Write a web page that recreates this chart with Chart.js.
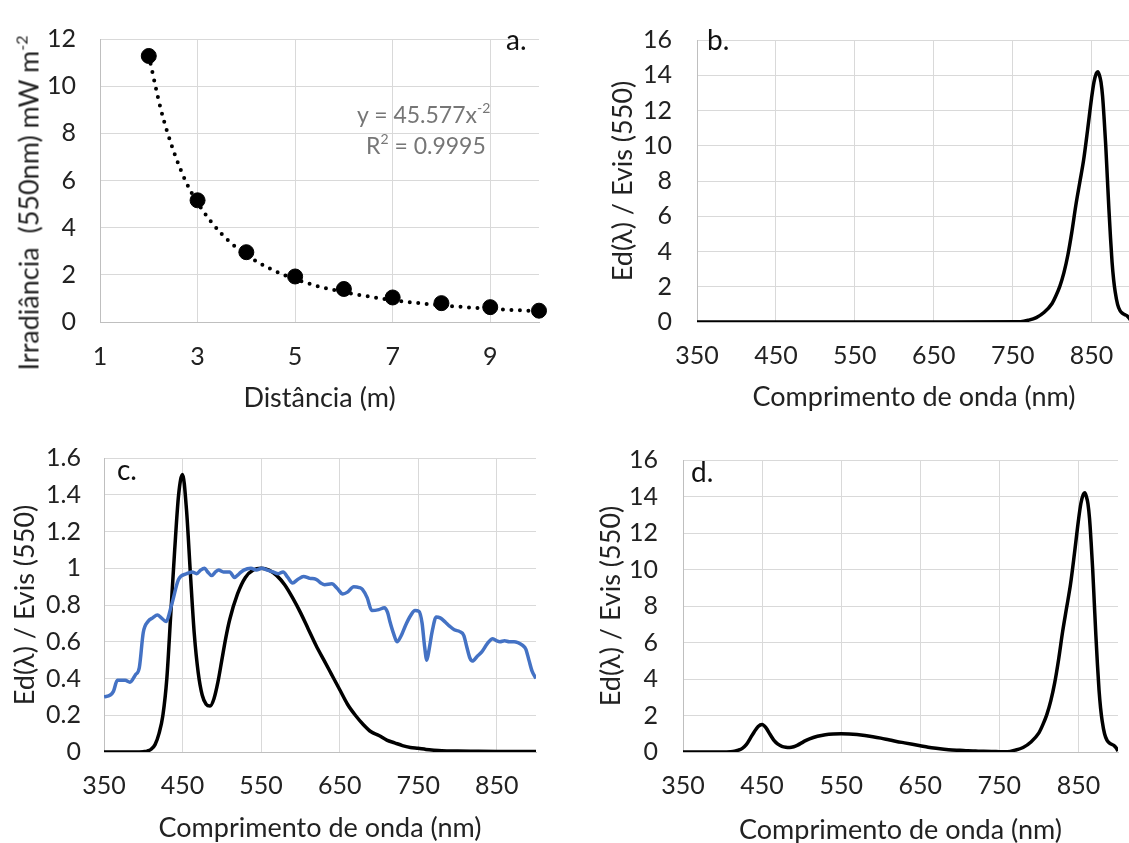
<!DOCTYPE html>
<html>
<head>
<meta charset="utf-8">
<script src="https://cdn.jsdelivr.net/npm/chart.js@4.4.0/dist/chart.umd.min.js"></script>
<style>
  html, body { margin: 0; padding: 0; background: #fff; overflow: hidden; }
  body { width: 1129px; height: 843px; position: relative; font-family: Lato, sans-serif; }
  .box { position: absolute; }
  .tag { position: absolute; font-size: 28px; color: #111; line-height: 1; white-space: nowrap; }
  .eq { position: absolute; font-size: 23px; color: #767676; line-height: 1; white-space: nowrap; }
  .eq sup { font-size: 14px; vertical-align: 10px; line-height: 0; }
  .ytitle { position: absolute; font-size: 27px; color: #222; line-height: 1; white-space: pre;
            transform: translate(-50%, -50%) rotate(-90deg); }
  .ytitle sup { font-size: 16px; vertical-align: 11px; line-height: 0; }
</style>
</head>
<body>
<div class="box" style="left:0;top:0"><canvas id="chartA" width="565" height="420"></canvas></div>
<div class="box" style="left:560px;top:0"><canvas id="chartB" width="600" height="420"></canvas></div>
<div class="box" style="left:0;top:420px"><canvas id="chartC" width="565" height="430"></canvas></div>
<div class="box" style="left:560px;top:420px"><canvas id="chartD" width="569" height="430"></canvas></div>

<div class="ytitle" style="left:28px;top:203px">Irradiância  (550nm) mW m<sup>-2</sup></div>
<div class="tag" style="left:506px;top:25px">a.</div>
<div class="tag" style="left:707px;top:25px">b.</div>
<div class="tag" style="left:117px;top:455px">c.</div>
<div class="tag" style="left:691px;top:457px">d.</div>
<div class="eq" style="left:357px;top:103px">y = 45.577x<sup>-2</sup></div>
<div class="eq" style="left:366px;top:134px">R<sup>2</sup> = 0.9995</div>

<script>
// panel a: irradiance vs distance
const aDist = [2, 3, 4, 5, 6, 7, 8, 9, 10];
const aIrr = [11.28, 5.16, 2.96, 1.93, 1.4, 1.04, 0.8, 0.63, 0.48];
const aTrendX = [2, 2.25, 2.5, 2.75, 3, 3.5, 4, 4.5, 5, 5.5, 6, 7, 8, 9, 10];
const aTrendY = [11.3, 9.0, 7.3, 6.0, 5.06, 3.72, 2.85, 2.25, 1.82, 1.5, 1.27, 0.93, 0.71, 0.56, 0.46];
const aXTicks = [1, 3, 5, 7, 9];

// spectra
const wlTicks = [350, 450, 550, 650, 750, 850];

const wlVis = [350, 360, 370, 380, 390, 400, 405, 410, 415, 420, 425, 430, 435, 440, 445, 450, 455, 460, 465, 470,
  475, 480, 485, 490, 495, 500, 505, 510, 520, 530, 540, 550, 560, 570, 580, 590, 600, 610, 620, 630,
  640, 650, 660, 670, 680, 690, 700, 710, 720, 730, 740, 750, 760];
const edVis = [0, 0, 0, 0, 0, 0.002, 0.005, 0.015, 0.04, 0.1, 0.2, 0.4, 0.75, 1.1, 1.4, 1.51, 1.32, 0.97, 0.64, 0.43,
  0.31, 0.26, 0.25, 0.29, 0.38, 0.5, 0.62, 0.72, 0.86, 0.95, 0.99, 1.0, 0.99, 0.96, 0.91, 0.84, 0.76, 0.67, 0.58, 0.5,
  0.42, 0.34, 0.26, 0.2, 0.15, 0.11, 0.09, 0.065, 0.05, 0.035, 0.025, 0.02, 0.014];
const wlVisTail = [770, 780, 800, 820, 850, 880, 900];
const edVisTail = [0.01, 0.007, 0.005, 0.004, 0.003, 0.003, 0.003];

const wlNir = [770, 780, 790, 800, 805, 810, 815, 820, 825, 830, 835, 840, 845, 850, 853, 856, 858, 860, 862, 864,
  866, 868, 870, 872, 874, 876, 878, 880, 883, 886, 889, 892, 895, 898, 900];
const edNir = [0.1, 0.25, 0.55, 1.05, 1.5, 2.05, 2.8, 3.8, 5.1, 6.6, 7.9, 9.2, 10.9, 12.7, 13.6, 14.1, 14.2, 14.0, 13.6, 12.8,
  11.5, 10.0, 8.2, 6.4, 4.8, 3.4, 2.4, 1.7, 1.0, 0.65, 0.5, 0.42, 0.35, 0.2, 0.05];
const wlFlat = [350, 450, 550, 650, 760];
const edFlat = [0, 0, 0, 0, 0.02];

const wlSun = [350, 358, 362, 367, 377, 383, 390, 395, 400, 406, 412, 418, 423, 429, 436, 445, 455, 462, 468, 473,
  478, 482, 487, 492, 496, 502, 506, 510, 516, 522, 528, 537, 544, 551, 558, 565, 572, 578, 584, 590,
  597, 604, 612, 620, 626, 631, 640, 647, 654, 660, 668, 675, 679, 685, 691, 700, 707, 711, 714, 719,
  723, 728, 734, 740, 746, 751, 755, 758, 761, 764, 768, 773, 778, 785, 790, 796, 803, 808, 812, 816,
  819, 825, 831, 838, 845, 850, 854, 860, 866, 872, 877, 883, 887, 891, 895, 900];
const edSun = [0.30, 0.31, 0.33, 0.39, 0.39, 0.38, 0.42, 0.46, 0.65, 0.71, 0.73, 0.745, 0.73, 0.71, 0.80, 0.94, 0.97, 0.98, 0.97, 0.99,
  1.0, 0.98, 0.96, 0.98, 0.99, 0.98, 0.98, 0.98, 0.95, 0.97, 0.99, 1.0, 0.99, 1.0, 0.99, 0.98, 0.97, 0.98, 0.95, 0.92,
  0.94, 0.955, 0.945, 0.94, 0.92, 0.91, 0.915, 0.89, 0.86, 0.87, 0.90, 0.895, 0.885, 0.84, 0.77, 0.775, 0.785, 0.76, 0.71, 0.64,
  0.60, 0.63, 0.69, 0.74, 0.77, 0.765, 0.70, 0.58, 0.50, 0.56, 0.66, 0.735, 0.73, 0.705, 0.685, 0.665, 0.655, 0.635, 0.57, 0.51,
  0.495, 0.52, 0.545, 0.59, 0.617, 0.605, 0.60, 0.605, 0.60, 0.60, 0.595, 0.58, 0.56, 0.50, 0.44, 0.40];

Chart.defaults.font.family = 'Lato';
Chart.defaults.font.size = 25;
Chart.defaults.color = '#222';

function toPoints(xs, ys) {
  return xs.map((x, i) => ({x: x, y: ys[i]}));
}
function fixWidth(w) { return function(scale) { scale.width = w; }; }
function fixHeight(h) { return function(scale) { scale.height = h; }; }
function setTicks(list) { return function(scale) { scale.ticks = list.map(v => ({value: v})); }; }

const gridColor = '#d9d9d9';
const axisColor = '#bfbfbf';
const titleFont = {size: 27};

new Chart(document.getElementById('chartA'), {
  type: 'scatter',
  data: {
    datasets: [{
      data: toPoints(aDist, aIrr),
      backgroundColor: '#000',
      borderColor: '#000',
      pointRadius: 7.5,
      clip: false
    }, {
      data: toPoints(aTrendX, aTrendY),
      showLine: true,
      borderColor: '#000',
      borderWidth: 4,
      borderDash: [0, 8.5],
      borderCapStyle: 'round',
      pointRadius: 0,
      cubicInterpolationMode: 'monotone'
    }]
  },
  options: {
    responsive: false,
    animation: false,
    layout: {padding: {left: 0, top: 22, right: 26, bottom: 0}},
    plugins: {legend: {display: false}, tooltip: {enabled: false}},
    scales: {
      x: {
        type: 'linear', min: 1, max: 10,
        afterBuildTicks: setTicks(aXTicks),
        afterFit: fixHeight(98),
        grid: {color: gridColor, drawTicks: false},
        border: {color: axisColor},
        ticks: {padding: 20},
        title: {display: true, text: 'Distância (m)', font: titleFont, padding: {top: 0, bottom: 6}}
      },
      y: {
        min: 0, max: 12,
        afterFit: fixWidth(100),
        grid: {color: gridColor, drawTicks: false},
        border: {color: axisColor},
        ticks: {stepSize: 2, padding: 24}
        // the y title is the .ytitle div (it is longer than the axis)
      }
    }
  }
});

function spectrum(id, datasets, yMax, yStep, geo) {
  return new Chart(document.getElementById(id), {
    type: 'scatter',
    data: {datasets: datasets},
    options: {
      responsive: false,
      animation: false,
      layout: {padding: {left: 0, top: geo.top, right: geo.right, bottom: 0}},
      plugins: {legend: {display: false}, tooltip: {enabled: false}},
      scales: {
        x: {
          type: 'linear', min: 350, max: 900,
          afterBuildTicks: setTicks(wlTicks),
          afterFit: fixHeight(geo.xh),
          grid: {color: gridColor, drawTicks: false},
          border: {color: axisColor},
          ticks: {padding: 19},
          title: {display: true, text: 'Comprimento de onda (nm)', font: titleFont, padding: {top: 0, bottom: geo.xtp}}
        },
        y: {
          min: 0, max: yMax,
          afterFit: fixWidth(geo.yw),
          grid: {color: gridColor, drawTicks: false},
          border: {color: axisColor},
          ticks: {
            stepSize: yStep, padding: geo.ypad,
            callback: v => String(Math.round(v * 10) / 10)
          },
          title: {display: true, text: 'Ed(λ) / Evis (550)', font: titleFont, padding: {top: geo.ytp, bottom: 0}}
        }
      }
    }
  });
}

function blackLine(points) {
  return {
    data: points,
    showLine: true,
    borderColor: '#000',
    borderWidth: 3.5,
    pointRadius: 0,
    cubicInterpolationMode: 'monotone'
  };
}

spectrum('chartB', [blackLine(toPoints(wlFlat.concat(wlNir), edFlat.concat(edNir)))], 16, 2,
  {top: 19, right: 29, xh: 98, xtp: 7, yw: 137, ypad: 25, ytp: 47});

spectrum('chartC', [{
  data: toPoints(wlSun, edSun),
  showLine: true,
  borderColor: '#4472c4',
  borderWidth: 3.5,
  pointRadius: 0,
  cubicInterpolationMode: 'monotone'
}, blackLine(toPoints(wlVis.concat(wlVisTail), edVis.concat(edVisTail)))], 1.6, 0.2,
  {top: 32, right: 29, xh: 98, xtp: 6, yw: 104, ypad: 23, ytp: 9});

spectrum('chartD', [blackLine(toPoints(wlVis.concat(wlNir), edVis.concat(edNir)))], 16, 2,
  {top: 32, right: 11, xh: 98, xtp: 4, yw: 123, ypad: 25, ytp: 35});
</script>
</body>
</html>
